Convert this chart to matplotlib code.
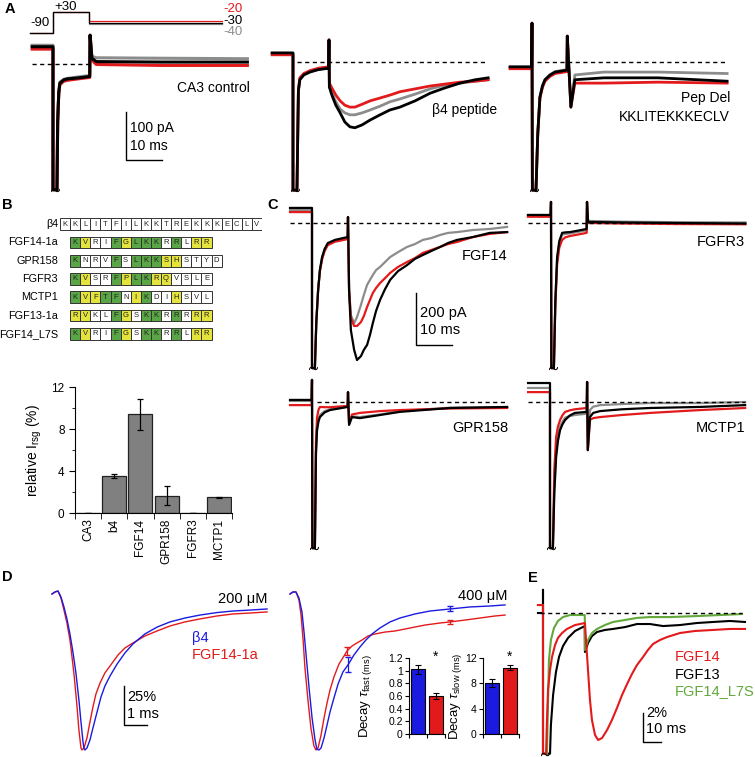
import matplotlib
matplotlib.use("Agg")
import matplotlib.pyplot as plt
from matplotlib.patches import Rectangle

plt.rcParams['font.family'] = ['Liberation Sans', 'DejaVu Sans']
plt.rcParams['mathtext.fontset'] = 'custom'
plt.rcParams['mathtext.rm'] = 'Liberation Sans'
plt.rcParams['mathtext.it'] = 'Liberation Sans:italic'
plt.rcParams['mathtext.bf'] = 'Liberation Sans:bold'

RED = '#e31a1c'
GRAY = '#8c8c8c'
BLUE = '#1a1ae0'
GREEN = '#62a83a'

# ---------------- data ----------------
# A: voltage protocol (ms, mV)
prot_t = [-6.4, 0, 0, 10, 10, 46.9]
prot_levels = [-20, -40, -30]
prot_colors = [RED, GRAY, 'k']

# A: currents (ms, pA)
t_a1 = [-5.8, 0, 0, 1.1, 1.3, 1.6, 1.9, 3.0, 4.0, 7.0, 10.2, 10.3, 10.8, 12.0, 30.0, 54.0]
a1_black = [36, 36, -262, -262, -120, -60, -40, -33, -31, -29, -26, 60, 12, 5, 4, 4]
a1_red = [31, 31, -262, -262, -120, -62, -43, -36, -34, -31, -28, 60, 8, -1, -3, -3]
a1_gray = [39, 39, -262, -262, -120, -58, -38, -32, -30, -27, -24, 60, 16, 13, 12, 11]

t_a2 = [-5.8, 0, 0, 1.1, 1.5, 1.9, 3.0, 4.7, 7.0, 9.9, 10.0,
        10.1, 10.8, 11.9, 13.1, 14.4, 15.8, 17.2, 19.2, 21.4, 24.2, 26.9, 29.7, 33.9, 38.1, 42.2, 46.4, 50.6, 54.2]
a2_black = [19, 19, -267, -267, -60, -37, -27, -21, -16, -13, 46,
            -52, -69, -90, -106, -125, -135, -137, -131, -121, -110, -100, -94, -81, -65, -54, -44, -37, -33]
a2_red = [15, 15, -267, -267, -58, -33, -24, -18, -13, -10, 46,
          -44, -54, -69, -81, -90, -94, -94, -88, -81, -75, -69, -62, -56, -50, -46, -42, -40, -37]
a2_gray = [18, 18, -267, -267, -59, -36, -26, -20, -15, -12, 46,
           -52, -65, -83, -98, -106, -110, -110, -106, -100, -92, -83, -77, -67, -56, -48, -44, -40, -37]

t_a3 = [-6.1, -0.1, 0.0, 0.1, 1.1, 1.6, 2.2, 2.9, 3.6, 5.0, 6.4, 9.7, 9.8, 10.8, 11.9, 20.0, 35.0, 54.2]
a3_black = [-10, -10, 81, -267, -267, -150, -73, -50, -37, -27, -21, -17, 54, -94, -37, -33, -33, -40]
a3_red = [-14, -14, 81, -267, -267, -150, -75, -53, -40, -30, -24, -20, 54, -94, -44, -44, -42, -44]
a3_gray = [-11, -11, 81, -267, -267, -150, -73, -50, -37, -27, -20, -16, 54, -90, -27, -21, -21, -24]

# B: sequence alignment (G green, Y yellow, W white)
seq_names = ['β4', 'FGF14-1a', 'GPR158', 'FGFR3', 'MCTP1', 'FGF13-1a', 'FGF14_L7S']
seq_letters = ['KKLITFILKKTREKKKECLV', 'KVRIFGLKKRRLRR', 'KNRVFSLKKSHSTYD',
               'KVSRFPLKRQVSLE', 'KVFTFNIKDIHSVL', 'RVKLFGSKKRRRRR', 'KVRIFGSKKRRLRR']
seq_classes = ['WWWWWWWWWWWWWWWWWWWW', 'GYWWGYGGGWGWYY', 'GWWWGWGGGYYWWWW',
               'GYWWGYGGYYWWWW', 'GYYGGWYGWWYWWW', 'YYWWGYWGGWGWYY', 'GYWWGYWGGWGWYY']

# B: bar chart
bar_names = ['CA3', 'b4', 'FGF14', 'GPR158', 'FGFR3', 'MCTP1']
rel_isg = [0.0, 3.5, 9.4, 1.65, 0.0, 1.5]
rel_err = [0.0, 0.2, 1.45, 0.9, 0.0, 0.06]

# C: currents (ms, pA)
t_c1 = [-6.1, 0, 0, 0.8, 1.2, 1.7, 2.2, 2.8, 3.5, 4.4, 6.4, 9.9, 10.0,
        10.3, 10.8, 11.7, 12.5, 13.6, 14.4, 15.3, 16.1, 16.9, 17.8, 18.9, 20.3, 21.7, 23.9,
        26.4, 28.6, 30.8, 33.1, 35.6, 37.8, 40.3, 44.7, 49.4, 54.2]
c1_black = [58, 58, -558, -558, -380, -258, -180, -131, -100, -77, -65, -54, 23,
            -258, -412, -488, -527, -512, -488, -469, -431, -385, -338, -296, -254, -219, -185,
            -162, -138, -123, -108, -92, -77, -65, -54, -38, -35]
c1_red = [42, 42, -558, -558, -380, -258, -185, -140, -108, -85, -72, -62, 23,
          -258, -365, -396, -396, -381, -358, -323, -296, -269, -250, -231, -212, -192, -169,
          -150, -135, -115, -104, -92, -81, -73, -54, -42, -35]
c1_gray = [50, 50, -558, -558, -380, -258, -182, -135, -104, -80, -68, -58, 23,
           -258, -354, -385, -362, -315, -277, -238, -219, -200, -181, -169, -150, -131, -112,
           -92, -81, -65, -58, -46, -38, -35, -27, -23, -15]

t_c2 = [-6.4, -0.1, 0, 0.1, 0.8, 1.2, 1.7, 2.3, 3.1, 4.0, 5.3, 9.9, 10.0, 10.3, 20, 35, 54]
c2_black = [31, 31, 81, -558, -558, -300, -131, -70, -38, -36, -35, -23, 81, 4, 2, 0, -2]
c2_red = [24, 24, 81, -558, -558, -320, -160, -95, -65, -55, -50, -38, 81, 0, -2, -4, -5]
c2_gray = [28, 28, 81, -558, -558, -305, -140, -78, -45, -42, -40, -28, 81, 8, 5, 3, 2]

t_c3 = [-6.1, -0.1, 0, 0.1, 0.8, 1.1, 1.4, 1.8, 2.2, 3.5, 5.0, 9.9, 10.0, 10.3, 11.1, 13.3, 18.9, 24.4, 38.3, 54.2]
c3_black = [8, 8, 85, -562, -562, -200, -108, -75, -58, -40, -31, -19, 38, -88, -58, -62, -50, -38, -23, -19]
c3_red = [-12, -12, 85, -562, -562, -150, -60, -30, -19, -20, -20, -15, 38, -80, -48, -42, -35, -31, -25, -23]
c3_gray = [4, 4, 85, -562, -562, -190, -100, -68, -50, -35, -28, -18, 38, -85, -55, -58, -48, -35, -22, -20]

t_c4 = [-6.1, 0, 0, 0.8, 1.2, 1.7, 2.2, 2.8, 3.5, 4.2, 5.5, 6.9, 10.2, 10.3, 10.5, 11.1, 12.0, 13.9, 20, 27.8, 41.7, 54.2]
c4_black = [73, 73, -562, -562, -350, -212, -150, -108, -85, -69, -52, -42, -38, 77, -185, -58, -42, -35, -28, -23, -19, -12]
c4_red = [38, 38, -562, -562, -260, -135, -95, -69, -50, -38, -32, -28, -23, 77, -185, -69, -62, -58, -50, -42, -31, -23]
c4_gray = [54, 54, -562, -562, -320, -190, -130, -95, -75, -60, -54, -50, -45, 77, -185, -31, -18, -12, -8, -4, -4, 0]

# D: normalised currents (ms, %)
d1_t_red = [0, 0.13, 0.26, 0.39, 0.52, 0.65, 0.78, 0.87, 0.96, 1.09, 1.17, 1.26, 1.30, 1.39, 1.52, 1.65,
            1.78, 1.91, 2.09, 2.30, 2.52, 2.87, 3.17, 3.52, 4.04, 4.57, 5.13, 5.78, 6.43, 7.17, 7.87, 8.61, 9.35]
d1_red = [0, 1.3, 1.9, -2.6, -10.3, -18.6, -29.5, -40.4, -51.9, -72.4, -87.2, -98.7, -100, -98.7, -92.3, -82,
          -72.4, -64.1, -57, -50.6, -46.2, -39.1, -34.6, -31.4, -26.9, -23.7, -20.5, -17.9, -16, -14.1, -12.8, -12.2, -11.5]
d1_t_blue = [0, 0.13, 0.26, 0.39, 0.52, 0.65, 0.78, 0.91, 1.04, 1.17, 1.26, 1.35, 1.39, 1.43, 1.52, 1.65, 1.78,
             1.96, 2.13, 2.30, 2.52, 2.83, 3.17, 3.52, 4.04, 4.57, 5.13, 5.78, 6.43, 7.17, 7.87, 8.61, 9.35]
d1_blue = [0, 1.3, 1.9, -1.9, -8.3, -16, -25.6, -37.2, -50.6, -67.9, -82, -95, -99, -100, -98.7, -93.6, -85.9,
           -75.6, -66, -59, -52.6, -44.9, -37.8, -32, -25.6, -21.2, -17.9, -15.4, -13.5, -11.9, -10.9, -10.3, -9.6]

d2_t_red = [0, 0.13, 0.26, 0.39, 0.48, 0.57, 0.65, 0.78, 0.91, 1.04, 1.13, 1.22, 1.35, 1.48, 1.61, 1.74, 1.91,
            2.13, 2.35, 2.48, 2.70, 2.91, 3.13, 3.39, 3.70, 4.13, 4.57, 5.22, 5.87, 6.52, 6.96, 7.61, 8.26, 8.91, 9.35]
d2_red = [0, 1.3, 1.3, -3.8, -13.5, -29.5, -47.4, -67.9, -85.9, -97.4, -100, -98.7, -90.4, -79.5, -69.9, -61.5, -53.2,
          -44.9, -39.7, -36.5, -33.3, -31.4, -29.5, -26.9, -25.6, -24.4, -23.7, -21.8, -19.9, -18.6, -17.9, -16.7, -15.4, -14.1, -13.5]
d2_t_blue = [0, 0.13, 0.26, 0.39, 0.52, 0.61, 0.70, 0.83, 0.96, 1.09, 1.17, 1.26, 1.35, 1.48, 1.61, 1.74, 1.91,
             2.09, 2.30, 2.52, 2.78, 3.04, 3.30, 3.57, 3.91, 4.35, 4.78, 5.43, 6.09, 6.96, 7.83, 8.70, 9.35]
d2_blue = [0, 1.3, 1.3, -2.6, -11.5, -24.4, -39.1, -60.3, -79.5, -93.6, -99.5, -100, -98.7, -92.3, -84, -75.6, -66.7,
           -57.7, -50, -45.5, -39.1, -34, -29.5, -25.6, -21.8, -17.9, -15.4, -12.8, -10.9, -9.6, -8.3, -7.7, -7]
d2_err_t = [2.48, 6.96, 2.52, 6.96]
d2_err_y = [-36.5, -17.9, -45.5, -9.6]
d2_err_e = [2.5, 1.5, 4.8, 1.6]

tau_fast = [1.02, 0.60]
tau_fast_err = [0.07, 0.04]
tau_slow = [8.1, 10.5]
tau_slow_err = [0.6, 0.45]

# E: relative currents (ms, %)
e_t_red = [-2.8, 0, 0, 1.7, 2.2, 2.8, 3.9, 5.0, 6.7, 8.3, 10.6, 13.3, 17.8, 23.3,
           23.9, 25.0, 26.1, 27.2, 28.9, 30.6, 32.8, 35.6, 38.3, 41.1, 43.9, 46.7, 49.4, 52.2, 55.6,
           58.3, 61.1, 65.0, 68.9, 76.1, 84.4, 94.4, 103.9, 112.2]
e_red = [0.55, 0.55, -9.7, -9.7, -7.38, -5.31, -3.93, -3.03, -2.21, -1.72, -1.38, -1.1, -0.83, -0.69,
         -1.86, -3.93, -6.0, -7.38, -8.41, -8.76, -8.62, -8.07, -7.38, -6.55, -5.66, -4.9, -4.21, -3.59, -3.03,
         -2.55, -2.14, -1.86, -1.66, -1.38, -1.24, -1.17, -1.1, -1.1]
e_t_black = [-2.8, 0, 0, 0, 3.9, 4.4, 5.6, 7.2, 8.9, 11.1, 13.9, 17.8, 23.2,
             23.3, 25.0, 27.2, 30.0, 34.4, 38.9, 45.6, 52.2, 59.4, 66.7, 76.1, 85.6, 94.4, 103.9, 112.2]
e_black = [0, 0, 1.6, -9.7, -9.7, -7.72, -5.66, -4.07, -3.03, -2.28, -1.72, -1.24, -0.9,
           -2.69, -2.07, -1.59, -1.31, -1.17, -1.1, -0.97, -0.76, -0.76, -0.9, -0.83, -0.69, -0.62, -0.55, -0.62]
e_t_green = [-2.8, 0, 0, 2.2, 2.8, 3.3, 4.4, 6.1, 8.3, 11.1, 15.0, 23.2,
             23.3, 25.0, 27.2, 30.0, 34.4, 38.9, 45.6, 52.2, 59.4, 70.6, 85.6, 98.3, 110.6]
e_green = [0.55, 0.55, -9.7, -9.7, -6.0, -3.24, -1.86, -1.03, -0.55, -0.28, -0.14, -0.14,
           -2.55, -1.86, -1.38, -1.1, -0.83, -0.62, -0.48, -0.34, -0.28, -0.28, -0.21, -0.14, -0.07]

# ---------------- layout helpers ----------------
W, H = 755, 757
fig = plt.figure(figsize=(W / 100, H / 100), dpi=100)


def px_axes(x0, y0, x1, y1):
    return fig.add_axes([x0 / W, 1 - y1 / H, (x1 - x0) / W, (y1 - y0) / H])


def ptext(x, y, s, **kw):
    kw.setdefault('fontsize', 10)
    kw.setdefault('va', 'center')
    fig.text(x / W, 1 - y / H, s, **kw)


def trace_axes(box, x_t0, px_ms, y_zero, px_unit):
    x0, y0, x1, y1 = box
    ax = px_axes(x0, y0, x1, y1)
    ax.set_xlim((x0 - x_t0) / px_ms, (x1 - x_t0) / px_ms)
    ax.set_ylim((y_zero - y1) / px_unit, (y_zero - y0) / px_unit)
    ax.axis('off')
    return ax


def draw_set(ax, t, black, red, gray, lw, dash=None, clip=None):
    if dash is not None:
        ax.plot(dash, [0, 0], color='k', lw=1, ls=(0, (3, 2.5)), zorder=5)
    ax.plot(t, gray, color=GRAY, lw=lw)
    ax.plot(t, red, color=RED, lw=lw)
    ax.plot(t, black, color='k', lw=lw)
    if clip is not None:
        ax.plot(clip[0], clip[1], marker=r'$\sim$', ms=6, color='k', mew=0.3)


def scalebar(ax, t, top, dy, dt):
    ax.plot([t, t, t + dt], [top, top - dy, top - dy], color='k', lw=1)


# ---------------- panel A ----------------
axp = trace_axes((20, 0, 258, 200), 53, 3.6, 17.25, 0.175)
for lev, col in zip(prot_levels, prot_colors):
    axp.plot(prot_t, [-90, -90, 30, 30, lev, lev], color=col, lw=0.9)

ax = trace_axes((20, 0, 258, 200), 53, 3.6, 64, 0.48)
draw_set(ax, t_a1, a1_black, a1_red, a1_gray, 2.2, dash=[-5.8, 10], clip=(0.55, -262))
scalebar(ax, 20.3, -100, 100, 10)

ax = trace_axes((262, 20, 500, 200), 293, 3.6, 62, 0.48)
draw_set(ax, t_a2, a2_black, a2_red, a2_gray, 2.0, dash=[1.1, 54.2], clip=(0.55, -267))

ax = trace_axes((502, 10, 740, 200), 532, 3.6, 62, 0.48)
draw_set(ax, t_a3, a3_black, a3_red, a3_gray, 2.0, dash=[1.4, 54.2], clip=(0.55, -267))

ptext(10, 9, 'A', fontsize=10.5, fontweight='bold', ha='center')
ptext(40, 23, '-90', fontsize=9.5, ha='center')
ptext(66, 7, '+30', fontsize=9.5, ha='center')
ptext(223, 9, '-20', fontsize=9.5, color=RED)
ptext(223, 21, '-30', fontsize=9.5, color='k')
ptext(223, 32, '-40', fontsize=9.5, color=GRAY)
ptext(250, 88, 'CA3 control', ha='right')
ptext(130, 128, '100 pA')
ptext(130, 146, '10 ms')
ptext(497, 110, 'β4 peptide', ha='right')
ptext(730, 98, 'Pep Del', ha='right')
ptext(730, 117, 'KKLITEKKKECLV', ha='right')

# ---------------- panel B: alignment ----------------
CELL = {'G': '#5aa545', 'Y': '#e5e43c', 'W': 'white'}
axt = px_axes(60, 215, 262, 343)
axt.set_xlim(0, 20)
axt.set_ylim(6.5, -0.5)
axt.axis('off')
for r, (name, seq, cls) in enumerate(zip(seq_names, seq_letters, seq_classes)):
    start = 0 if r == 0 else 1
    for i, (aa, c) in enumerate(zip(seq, cls)):
        axt.add_patch(Rectangle((start + i, r - 0.32), 1, 0.64, fc=CELL[c], ec='#333333', lw=0.7))
        axt.text(start + i + 0.5, r, aa, ha='center', va='center', fontsize=5.5, color='#222222')
    axt.text(-0.2, r, name, ha='right', va='center', fontsize=7.8, clip_on=False)

ptext(7, 205, 'B', fontsize=10.5, fontweight='bold', ha='center')

# ---------------- panel B: bars ----------------
axb = px_axes(75, 387, 232, 513)
xs = list(range(len(bar_names)))
axb.bar(xs, rel_isg, width=0.92, color='#808080', edgecolor='#222222', lw=0.9,
        yerr=rel_err, capsize=2.5, error_kw=dict(lw=0.9, capthick=0.9, ecolor='k'))
axb.set_xlim(-0.5, 5.5)
axb.set_ylim(0, 12)
axb.set_yticks([0, 4, 8, 12])
axb.set_yticks([2, 6, 10], minor=True)
axb.set_xticks(xs)
axb.set_xticklabels(bar_names, rotation=90, fontsize=8.5)
axb.set_xticks([x - 0.5 for x in xs] + [5.5], minor=True)
axb.tick_params(axis='x', which='major', length=0, pad=4)
axb.tick_params(axis='x', which='minor', length=4, direction='out')
axb.tick_params(axis='y', which='major', length=4, labelsize=8.5, direction='out')
axb.tick_params(axis='y', which='minor', length=2.5, direction='out')
for s in ['top', 'right']:
    axb.spines[s].set_visible(False)
axb.set_ylabel(r'relative I$_{\mathrm{rsg}}$ (%)', fontsize=10)
axb.yaxis.set_label_coords(-0.2, 0.5)
axb.patch.set_alpha(0)

# ---------------- panel C ----------------
ax = trace_axes((285, 195, 512, 375), 312, 3.6, 223, 0.26)
draw_set(ax, t_c1, c1_black, c1_red, c1_gray, 1.6, dash=[-6.1, 54.2], clip=(0.4, -558))
scalebar(ax, 28.9, -269, 200, 10)

ax = trace_axes((522, 195, 752, 375), 551, 3.6, 223, 0.26)
draw_set(ax, t_c2, c2_black, c2_red, c2_gray, 1.6, dash=[-6.4, 54], clip=(0.45, -558))

ax = trace_axes((285, 375, 512, 560), 312, 3.6, 402, 0.26)
draw_set(ax, t_c3, c3_black, c3_red, c3_gray, 1.6, dash=[1.4, 54.2], clip=(0.45, -562))

ax = trace_axes((522, 375, 752, 560), 550, 3.6, 402, 0.26)
draw_set(ax, t_c4, c4_black, c4_red, c4_gray, 1.6, dash=[-6.1, 54.2], clip=(0.4, -562))

ptext(273, 205, 'C', fontsize=10.5, fontweight='bold', ha='center')
ptext(507, 256, 'FGF14', fontsize=10.5, ha='right')
ptext(420, 313, '200 pA', fontsize=10.5)
ptext(420, 330, '10 ms', fontsize=10.5)
ptext(745, 242, 'FGFR3', fontsize=10.5, ha='right')
ptext(508, 428, 'GPR158', fontsize=10.5, ha='right')
ptext(745, 428, 'MCTP1', fontsize=10.5, ha='right')

# ---------------- panel D ----------------
ax = trace_axes((40, 585, 275, 757), 52, 23, 594, 1.56)
ax.plot(d1_t_red, d1_red, color=RED, lw=1.0)
ax.plot(d1_t_blue, d1_blue, color=BLUE, lw=1.0)
scalebar(ax, 3.13, -59, 25, 1)

ax = trace_axes((280, 585, 515, 757), 290, 23, 594, 1.56)
ax.plot(d2_t_red, d2_red, color=RED, lw=1.0)
ax.plot(d2_t_blue, d2_blue, color=BLUE, lw=1.0)
for i, (t, y, e) in enumerate(zip(d2_err_t, d2_err_y, d2_err_e)):
    ax.errorbar(t, y, yerr=e, color=RED if i < 2 else BLUE, lw=0.9, capsize=2)

ptext(7, 577, 'D', fontsize=10.5, fontweight='bold', ha='center')
ptext(267, 599, '200 μM', fontsize=10.5, ha='right')
ptext(507, 596, '400 μM', fontsize=10.5, ha='right')
ptext(192, 638, 'β4', fontsize=10.5, color=BLUE)
ptext(192, 655, 'FGF14-1a', fontsize=10.5, color=RED)
ptext(127, 697, '25%', fontsize=10.5)
ptext(127, 714, '1 ms', fontsize=10.5)


def tau_axes(box, vals, errs, top, ticks, labels, ylabel, lab_x):
    axi = px_axes(*box)
    axi.bar([1, 2], vals, width=0.82, color=[BLUE, RED], edgecolor='k', lw=0.8,
            yerr=errs, capsize=2, error_kw=dict(lw=0.8, capthick=0.8, ecolor='k'))
    axi.set_xlim(0.5, 2.5)
    axi.set_ylim(0, top)
    axi.set_yticks(ticks)
    axi.set_yticklabels(labels)
    axi.set_xticks([0.5, 1.5, 2.5])
    axi.set_xticklabels([])
    axi.tick_params(axis='both', length=3, labelsize=7.5, direction='out', pad=1.5)
    for s in ['top', 'right']:
        axi.spines[s].set_visible(False)
    axi.set_ylabel(ylabel, fontsize=9.5)
    axi.yaxis.set_label_coords(lab_x, 0.5)
    axi.patch.set_alpha(0)
    axi.text(2, top * 1.02, '*', ha='center', va='center', fontsize=10)
    return axi


tau_axes((409, 658, 445, 734), tau_fast, tau_fast_err, 1.2,
         [0, 0.2, 0.4, 0.6, 0.8, 1.0, 1.2], ['0', '0.2', '0.4', '0.6', '0.8', '1', '1.2'],
         r'Decay $\tau_{\mathrm{fast\ (ms)}}$', -0.97)
tau_axes((483, 658, 519, 734), tau_slow, tau_slow_err, 12,
         [0, 4, 8, 12], ['0', '4', '8', '12'],
         r'Decay $\tau_{\mathrm{slow\ (ms)}}$', -0.53)

# ---------------- panel E ----------------
ax = trace_axes((530, 588, 755, 757), 543, 1.8, 613, 14.5)
ax.plot([-1.7, 110.6], [0, 0], color='k', lw=1, ls=(0, (3, 2.5)), zorder=5)
ax.plot(e_t_black, e_black, color='k', lw=1.5)
ax.plot(e_t_green, e_green, color=GREEN, lw=1.5)
ax.plot(e_t_red, e_red, color=RED, lw=1.5)
ax.plot(1.0, -9.7, marker=r'$\sim$', ms=6, color='k', mew=0.3)
scalebar(ax, 55.6, -6.9, 2, 10)

ptext(533, 578, 'E', fontsize=10.5, fontweight='bold', ha='center')
ptext(675, 657, 'FGF14', fontsize=10.5, color=RED)
ptext(675, 675, 'FGF13', fontsize=10.5, color='k')
ptext(675, 691, 'FGF14_L7S', fontsize=10.5, color=GREEN)
ptext(646, 713, '2%', fontsize=10.5)
ptext(646, 729, '10 ms', fontsize=10.5)

fig.savefig('out.png', dpi=100)
